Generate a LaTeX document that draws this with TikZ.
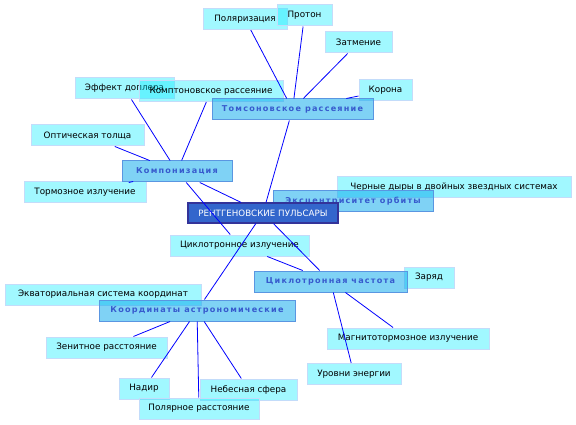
\documentclass[tikz,border=0pt]{standalone}
\usepackage{fontspec}
\setmainfont{DejaVu Sans}
\newfontfamily\topicfont[LetterSpace=15]{DejaVu Sans Bold}
\usepackage{tikz}
\usetikzlibrary{positioning}
\definecolor{hubfill}{RGB}{51,102,204}
\definecolor{hubline}{RGB}{51,51,153}
\definecolor{topicfill}{RGB}{0,165,235}
\definecolor{topicline}{RGB}{90,150,225}
\definecolor{topictext}{RGB}{55,90,205}
\definecolor{leaffill}{RGB}{0,235,255}
\definecolor{leafline}{RGB}{195,220,250}

\begin{document}
\begin{tikzpicture}[
    x=1pt, y=-1pt,
    hub/.style={draw=hubline, line width=1.2pt, fill=hubfill, text=white, minimum height=20pt, inner sep=0pt, font=\fontsize{8.7}{10}\selectfont},
    topic/.style={draw=topicline, line width=1pt, fill=topicfill, fill opacity=0.5, text opacity=1, text=topictext, minimum height=21pt, inner sep=0pt, font=\topicfont\fontsize{8.1}{10}\selectfont},
    leaf/.style={draw=leafline, line width=1pt, fill=leaffill, fill opacity=0.37, text opacity=1, minimum height=21pt, inner sep=0pt, font=\fontsize{8.8}{10}\selectfont},
    lnk/.style={blue, line width=0.8pt}
]
\useasboundingbox (0,0) rectangle (576,425);

% leaves
\node[leaf, minimum width=84pt] (pol) at (245,19) {Поляризация};
\node[leaf, minimum width=55pt] (prot) at (304.5,15.5) {Протон};
\node[leaf, minimum width=67pt] (zat) at (358.5,42.5) {Затмение};
\node[leaf, minimum width=53pt] (kor) at (385.5,90.5) {Корона};
\node[leaf, minimum width=99pt] (dopl) at (124.5,88.5) {Эффект доплера};
\node[leaf, minimum width=144pt] (kompt) at (211,91) {Комптоновское рассеяние};
\node[leaf, minimum width=113pt] (opt) at (87.5,135.5) {Оптическая толща};
\node[leaf, minimum width=122pt] (torm) at (85,192.5) {Тормозное излучение};
\node[leaf, minimum width=234pt] (bh) at (454,187) {Черные дыры в двойных звездных системах};
\node[leaf, minimum width=139pt] (cyce) at (239.5,245.5) {Циклотронное излучение};
\node[leaf, minimum width=50pt] (zar) at (429,277.5) {Заряд};
\node[leaf, minimum width=162pt] (magn) at (408,338.5) {Магнитотормозное излучение};
\node[leaf, minimum width=94pt] (urov) at (354,374) {Уровни энергии};
\node[leaf, minimum width=196pt] (ekv) at (103,294.5) {Экваториальная система координат};
\node[leaf, minimum width=121pt] (zen) at (106.5,347.5) {Зенитное расстояние};
\node[leaf, minimum width=50pt] (nad) at (144,388.5) {Надир};
\node[leaf, minimum width=97pt] (neb) at (248.5,389.5) {Небесная сфера};
\node[leaf, minimum width=120pt] (pold) at (199,408.5) {Полярное расстояние};

% topics
\node[topic, minimum width=161pt] (tom) at (292.5,109.5) {Томсоновское рассеяние};
\node[topic, minimum width=110pt] (komp) at (177,171.5) {Компонизация};
\node[topic, minimum width=160pt] (ecc) at (353,201) {Эксцентриситет орбиты};
\node[topic, minimum width=153pt] (cycf) at (330.5,281.5) {Циклотронная частота};
\node[topic, minimum width=196pt] (coord) at (197,310.5) {Координаты астрономические};

% centre
\node[hub, minimum width=150pt] (xrp) at (263,213) {РЕНТГЕНОВСКИЕ ПУЛЬСАРЫ};

% links
\foreach \a/\b in {xrp/tom, xrp/komp, xrp/cycf, xrp/coord,
    tom/pol, tom/prot, tom/zat, tom/kor,
    komp/dopl, komp/kompt, komp/opt, komp/torm, komp/cyce,
    cycf/cyce, cycf/magn, cycf/urov,
    coord/zen, coord/nad, coord/neb, coord/pold}
  \draw[lnk] (\a) -- (\b);
\end{tikzpicture}
\end{document}
